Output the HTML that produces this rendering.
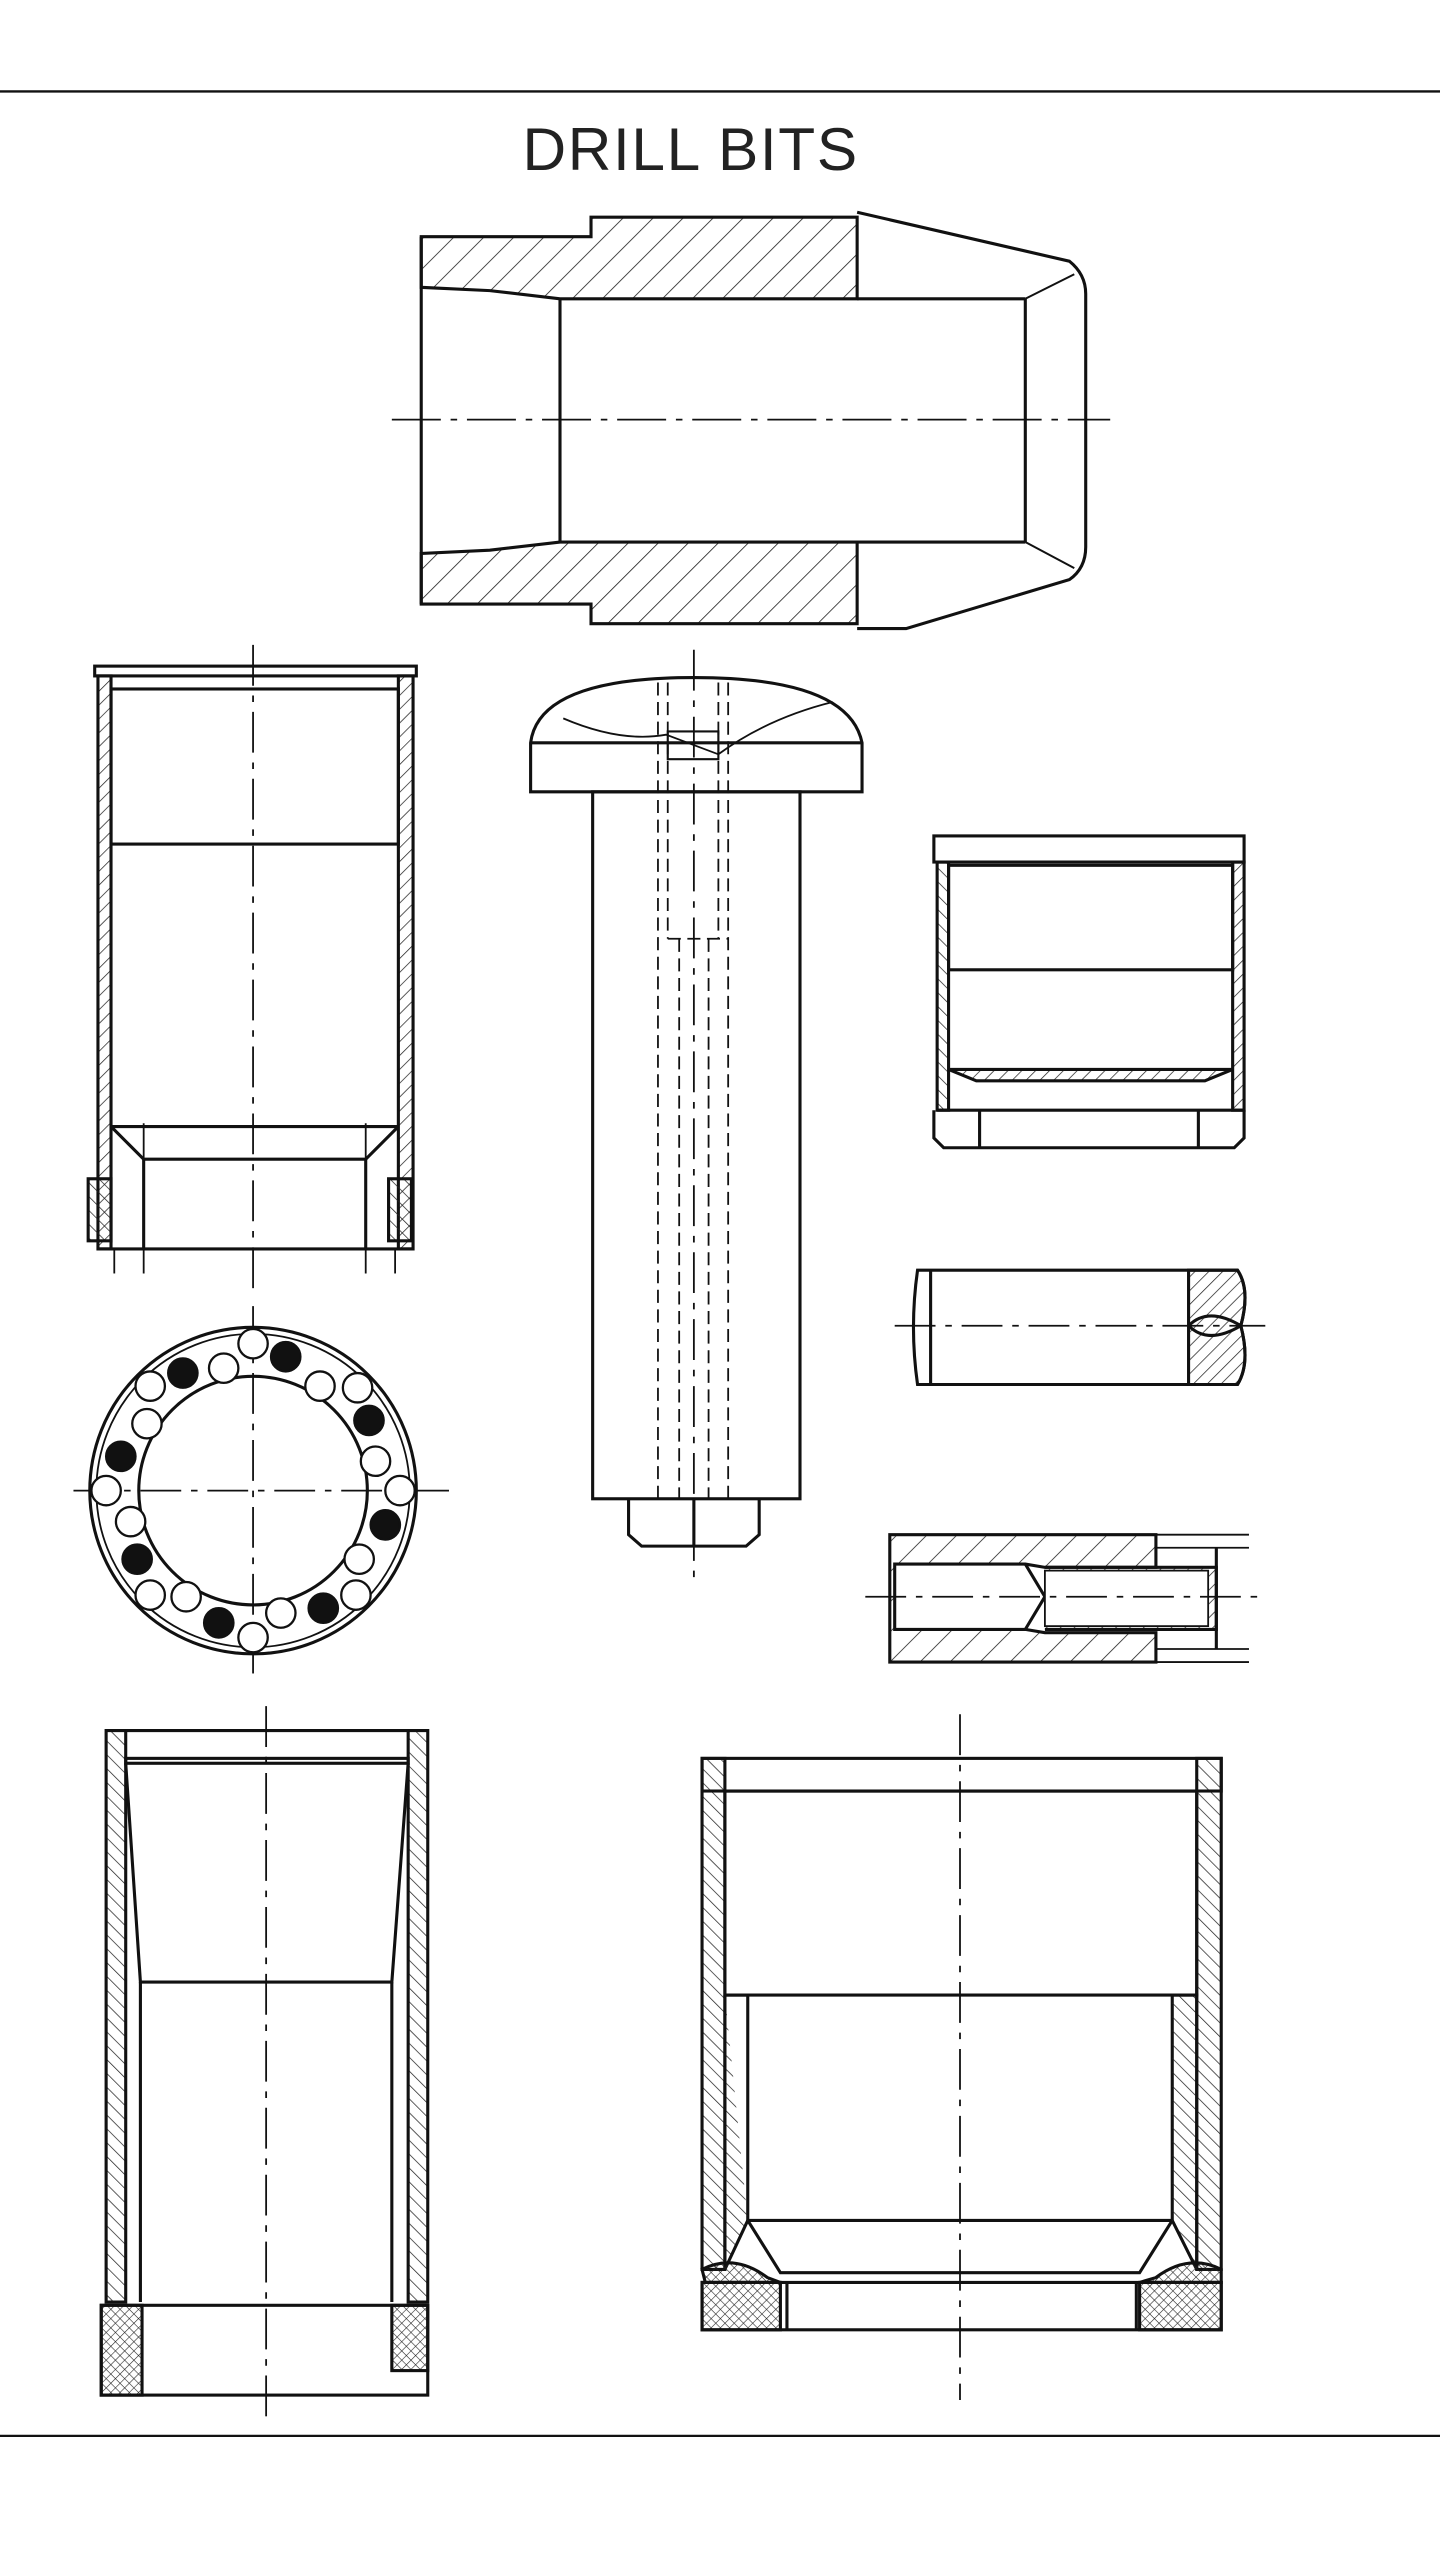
<!DOCTYPE html>
<html><head><meta charset="utf-8"><style>html,body{margin:0;padding:0;background:#fff}svg{display:block}</style></head><body>
<svg width="1440" height="2560" viewBox="0 0 882 1568" xmlns="http://www.w3.org/2000/svg">
<defs>
<pattern id="h" width="13" height="13" patternUnits="userSpaceOnUse" patternTransform="rotate(45)"><line x1="0" y1="0" x2="0" y2="13" stroke="#222" stroke-width="1"/></pattern>
<pattern id="h2" width="6" height="6" patternUnits="userSpaceOnUse" patternTransform="rotate(45)"><line x1="0" y1="0" x2="0" y2="6" stroke="#222" stroke-width="0.9"/></pattern>
<pattern id="hb" width="6" height="6" patternUnits="userSpaceOnUse" patternTransform="rotate(-45)"><line x1="0" y1="0" x2="0" y2="6" stroke="#222" stroke-width="0.9"/></pattern>
<pattern id="x" width="4" height="4" patternUnits="userSpaceOnUse" patternTransform="rotate(45)"><path d="M0 0V4M0 0H4" stroke="#222" stroke-width="0.7"/></pattern>
</defs>
<g fill="none" stroke="#111" stroke-width="1.6">
<line x1="0" y1="56" x2="882" y2="56" stroke-width="1.4"/>
<line x1="0" y1="1492" x2="882" y2="1492" stroke-width="1.4"/>
</g>
<text x="423" y="104" font-family="Liberation Sans, sans-serif" font-size="37" text-anchor="middle" fill="#222" letter-spacing="1">DRILL BITS</text>

<g stroke="#111" stroke-width="1.9">
<path d="M258 145H362V133H525V183H343L300 178L258 176Z" fill="url(#h)"/>
<path d="M258 370H362V382H525V332H343L300 337L258 339Z" fill="url(#h)"/>
<path d="M525 130L655 160Q665 168 665 180V335Q665 348 655 355L555 385H525" fill="none"/>
<line x1="258" y1="145" x2="258" y2="370"/>
<line x1="343" y1="183" x2="343" y2="332"/>
<line x1="628" y1="183" x2="628" y2="332"/>
<line x1="525" y1="183" x2="628" y2="183"/>
<line x1="525" y1="332" x2="628" y2="332"/>
<line x1="628" y1="183" x2="658" y2="168" stroke-width="1.2"/>
<line x1="628" y1="332" x2="658" y2="348" stroke-width="1.2"/>
<line x1="240" y1="257" x2="680" y2="257" stroke-width="1.1" stroke-dasharray="30,6,4,6"/>
</g>

<g stroke="#111" stroke-width="1.9" fill="none">
<rect x="58" y="408" width="197" height="6"/>
<path d="M60 414H68V765H60Z" fill="url(#h2)"/>
<path d="M244 414H253V765H244Z" fill="url(#h2)"/>
<rect x="68" y="422" width="176" height="95"/>
<line x1="68" y1="690" x2="244" y2="690"/>
<path d="M68 690L88 710H224L244 690"/>
<line x1="88" y1="710" x2="88" y2="765"/>
<line x1="224" y1="710" x2="224" y2="765"/>
<line x1="60" y1="765" x2="253" y2="765"/>
<rect x="54" y="722" width="14" height="38" fill="url(#hb)"/>
<rect x="238" y="722" width="14" height="38" fill="url(#hb)"/>
<line x1="88" y1="688" x2="88" y2="780" stroke-width="1.1"/>
<line x1="224" y1="688" x2="224" y2="780" stroke-width="1.1"/>
<line x1="70" y1="765" x2="70" y2="780" stroke-width="1.1"/>
<line x1="242" y1="765" x2="242" y2="780" stroke-width="1.1"/>
<line x1="155" y1="395" x2="155" y2="790" stroke-width="1.1" stroke-dasharray="25,6,4,6"/>
</g>

<g stroke="#111" stroke-width="1.9" fill="none">
<circle cx="155" cy="913" r="100"/>
<circle cx="155" cy="913" r="96" stroke-width="1.1"/>
<circle cx="155" cy="913" r="70"/>
<line x1="45" y1="913" x2="275" y2="913" stroke-width="1.1" stroke-dasharray="25,6,4,6"/>
<line x1="155" y1="800" x2="155" y2="1025" stroke-width="1.1" stroke-dasharray="25,6,4,6"/>
</g>
<g stroke="#111" stroke-width="1.4">
<circle cx="155" cy="823" r="9" fill="#fff"/><circle cx="175" cy="831" r="9" fill="#111"/><circle cx="196" cy="849" r="9" fill="#fff"/><circle cx="219" cy="850" r="9" fill="#fff"/><circle cx="226" cy="870" r="9" fill="#111"/><circle cx="230" cy="895" r="9" fill="#fff"/><circle cx="245" cy="913" r="9" fill="#fff"/><circle cx="236" cy="934" r="9" fill="#111"/><circle cx="220" cy="955" r="9" fill="#fff"/><circle cx="218" cy="977" r="9" fill="#fff"/><circle cx="198" cy="985" r="9" fill="#111"/><circle cx="172" cy="988" r="9" fill="#fff"/><circle cx="155" cy="1003" r="9" fill="#fff"/><circle cx="134" cy="994" r="9" fill="#111"/><circle cx="114" cy="978" r="9" fill="#fff"/><circle cx="92" cy="977" r="9" fill="#fff"/><circle cx="84" cy="955" r="9" fill="#111"/><circle cx="80" cy="932" r="9" fill="#fff"/><circle cx="65" cy="913" r="9" fill="#fff"/><circle cx="74" cy="892" r="9" fill="#111"/><circle cx="90" cy="872" r="9" fill="#fff"/><circle cx="92" cy="849" r="9" fill="#fff"/><circle cx="112" cy="841" r="9" fill="#111"/><circle cx="137" cy="838" r="9" fill="#fff"/>
</g>

<g stroke="#111" stroke-width="1.9" fill="none">
<path d="M325 485V455Q330 415 425 415Q520 415 528 455V485Z"/>
<line x1="325" y1="455" x2="528" y2="455"/>
<path d="M345 440Q380 455 408 450L440 462Q470 440 510 430" stroke-width="1.1"/>
<rect x="363" y="485" width="127" height="433"/>
<path d="M385 918V940L393 947H457L465 940V918"/>
<line x1="425" y1="918" x2="425" y2="947"/>
<rect x="409" y="448" width="31" height="17" stroke-width="1.3"/>
<g stroke-width="1.1" stroke-dasharray="8,4">
<line x1="403" y1="418" x2="403" y2="918"/><line x1="409" y1="418" x2="409" y2="575"/>
<line x1="440" y1="418" x2="440" y2="575"/><line x1="446" y1="418" x2="446" y2="918"/>
<line x1="409" y1="575" x2="446" y2="575"/>
<line x1="416" y1="575" x2="416" y2="918"/><line x1="434" y1="575" x2="434" y2="918"/>
</g>
<line x1="425" y1="398" x2="425" y2="972" stroke-width="1.1" stroke-dasharray="25,6,4,6"/>
</g>

<g stroke="#111" stroke-width="1.9" fill="none">
<rect x="572" y="512" width="190" height="16"/>
<path d="M574 528H581V680H574Z" fill="url(#hb)"/>
<path d="M755 528H762V680H755Z" fill="url(#h2)"/>
<rect x="581" y="530" width="174" height="64"/>
<path d="M581 655L598 662H738L755 655" fill="url(#h2)"/>
<line x1="581" y1="655" x2="755" y2="655"/>
<line x1="574" y1="680" x2="762" y2="680"/>
<path d="M572 680V697L578 703H756L762 697V680"/>
<line x1="600" y1="680" x2="600" y2="703"/><line x1="734" y1="680" x2="734" y2="703"/>
</g>

<g stroke="#111" stroke-width="1.9" fill="none">
<path d="M562 778H758Q766 790 760 812Q766 835 758 848H562Q557 813 562 778Z"/>
<line x1="570" y1="778" x2="570" y2="848"/>
<path d="M728 778H758Q766 790 760 812Q766 835 758 848H728Z" fill="url(#h2)"/>
<path d="M728 812Q740 800 760 812Q740 824 728 812"/>
<line x1="548" y1="812" x2="775" y2="812" stroke-width="1.1" stroke-dasharray="25,6,4,6"/>
</g>

<g stroke="#111" stroke-width="1.9" fill="none">
<path d="M545 940H708V960H640L628 958H548V998H628L640 1000H708V1018H545Z" fill="url(#h)"/>
<path d="M628 958L640 978L628 998" fill="#fff"/>
<path d="M640 960H745V998H640" fill="url(#h2)"/>
<rect x="640" y="962" width="100" height="34" fill="#fff" stroke-width="1.1"/>
<path d="M708 940H765M708 948H765M708 1010H765M708 1018H765" stroke-width="1.1"/>
<line x1="745" y1="948" x2="745" y2="1010"/>
<line x1="530" y1="978" x2="775" y2="978" stroke-width="1.1" stroke-dasharray="25,6,4,6"/>
</g>

<g stroke="#111" stroke-width="1.9" fill="none">
<path d="M65 1060H77V1410H65Z" fill="url(#hb)"/>
<path d="M250 1060H262V1410H250Z" fill="url(#hb)"/>
<path d="M77 1060H250" /><rect x="77" y="1077" width="173" height="3"/>
<path d="M77 1080L86 1214H240L250 1080"/>
<line x1="86" y1="1214" x2="86" y2="1410"/><line x1="240" y1="1214" x2="240" y2="1410"/>
<rect x="62" y="1412" width="25" height="55" fill="url(#x)"/>
<rect x="240" y="1412" width="22" height="40" fill="url(#x)"/>
<rect x="62" y="1412" width="200" height="55"/>
<line x1="163" y1="1045" x2="163" y2="1480" stroke-width="1.1" stroke-dasharray="25,6,4,6"/>
</g>

<g stroke="#111" stroke-width="1.9" fill="none">
<path d="M430 1077H444V1390H430Z" fill="url(#hb)"/>
<path d="M733 1077H748V1390H733Z" fill="url(#hb)"/>
<rect x="430" y="1077" width="318" height="20"/>
<path d="M444 1097V1222H733V1097Z"/>
<line x1="458" y1="1222" x2="458" y2="1360"/>
<line x1="718" y1="1222" x2="718" y2="1360"/>
<path d="M458 1222L444 1222M444 1222V1390L458 1360M718 1222H733V1390L718 1360" fill="url(#hb)"/>
<line x1="458" y1="1360" x2="718" y2="1360"/>
<path d="M458 1360L478 1392H698L718 1360"/>
<path d="M430 1390Q450 1380 470 1395L478 1398H432Z" fill="url(#x)"/>
<path d="M430 1398H478V1427H430Z" fill="url(#x)"/>
<path d="M698 1398H748V1427H698Z" fill="url(#x)"/>
<path d="M748 1390Q728 1380 708 1395L698 1398H748Z" fill="url(#x)"/>
<rect x="430" y="1398" width="318" height="29"/>
<line x1="482" y1="1398" x2="482" y2="1427"/><line x1="696" y1="1398" x2="696" y2="1427"/>
<line x1="588" y1="1050" x2="588" y2="1470" stroke-width="1.1" stroke-dasharray="25,6,4,6"/>
</g>
</svg>
</body></html>
